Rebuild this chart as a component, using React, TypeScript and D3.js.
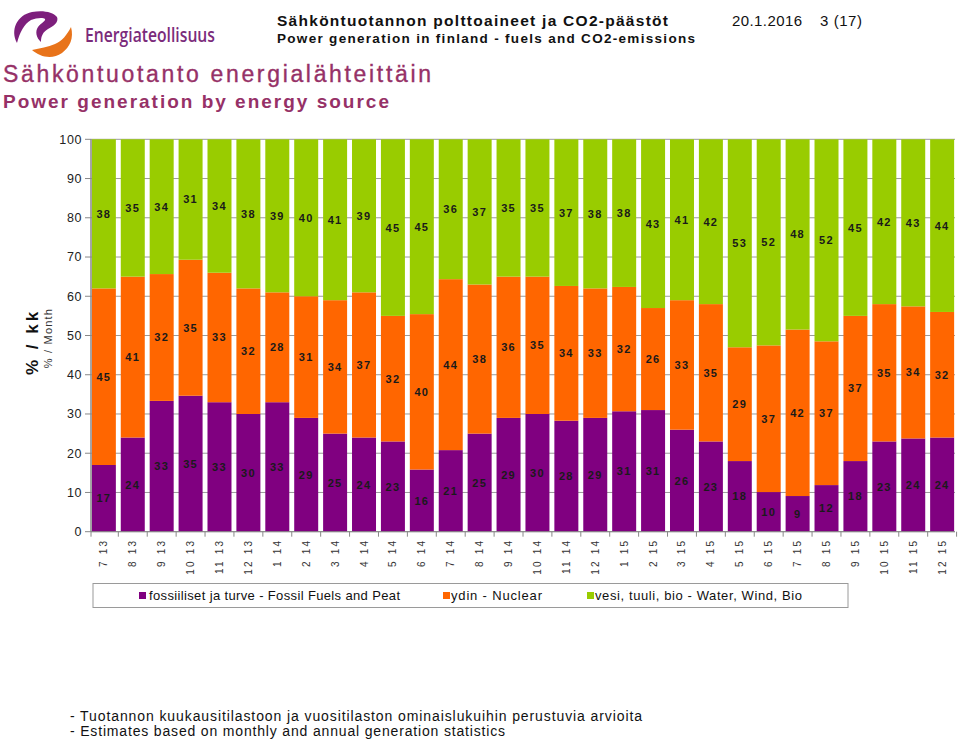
import * as d3 from "d3";

const W = 960;
const H = 739;
const FONT = "'Liberation Sans', Arial, Helvetica, sans-serif";

const MONTHS = [
  "7 13", "8 13", "9 13", "10 13", "11 13", "12 13",
  "1 14", "2 14", "3 14", "4 14", "5 14", "6 14",
  "7 14", "8 14", "9 14", "10 14", "11 14", "12 14",
  "1 15", "2 15", "3 15", "4 15", "5 15", "6 15",
  "7 15", "8 15", "9 15", "10 15", "11 15", "12 15",
];

// fossiiliset ja turve
const FOSSIL = [17, 24, 33, 35, 33, 30, 33, 29, 25, 24, 23, 16, 21, 25, 29, 30, 28, 29, 31, 31, 26, 23, 18, 10, 9, 12, 18, 23, 24, 24];
// ydin
const NUCLEAR = [45, 41, 32, 35, 33, 32, 28, 31, 34, 37, 32, 40, 44, 38, 36, 35, 34, 33, 32, 26, 33, 35, 29, 37, 42, 37, 37, 35, 34, 32];
// vesi, tuuli, bio
const RENEWABLE = [38, 35, 34, 31, 34, 38, 39, 40, 41, 39, 45, 45, 36, 37, 35, 35, 37, 38, 38, 43, 41, 42, 53, 52, 48, 52, 45, 42, 43, 44];

const Y_TICKS = [0, 10, 20, 30, 40, 50, 60, 70, 80, 90, 100];

const SERIES = [
  { key: "fossil", label: "fossiiliset ja turve - Fossil Fuels and Peat", color: "#800080", lx: 139, tx: 149, tl: 251 },
  { key: "nuclear", label: "ydin - Nuclear", color: "#ff6600", lx: 443, tx: 451, tl: 91 },
  { key: "renewable", label: "vesi, tuuli, bio - Water, Wind, Bio", color: "#99cc00", lx: 587, tx: 595, tl: 207 },
];

const PLOT = { left: 91, right: 955, top: 139.3, bottom: 531.7 };

type Row = { month: string; fossil: number; nuclear: number; renewable: number };

export default function App() {
  const rows: Row[] = MONTHS.map((m, i) => ({
    month: m,
    fossil: FOSSIL[i],
    nuclear: NUCLEAR[i],
    renewable: RENEWABLE[i],
  }));

  const stacked = d3
    .stack<Row>()
    .keys(SERIES.map((s) => s.key))
    .offset(d3.stackOffsetExpand)(rows);

  const x = d3
    .scaleBand<string>()
    .domain(MONTHS)
    .range([PLOT.left, PLOT.right])
    .paddingInner(0.17)
    .paddingOuter(0.03);
  const y = d3.scaleLinear().domain([0, 1]).range([PLOT.bottom, PLOT.top]);
  const bw = x.bandwidth();
  const gap = x.step() - bw;

  const tickXs = [PLOT.left, ...MONTHS.map((m) => (x(m) ?? 0) + bw + gap / 2)];

  return (
    <svg
      width={W}
      height={H}
      style={{ position: "absolute", left: 0, top: 0, display: "block", background: "#fff" }}
      fontFamily={FONT}
    >
      {/* logo */}
      <g>
        <path
          d="M17,43 C10,30 17,15 32,12 C43,10 53,12 57,17 C59,22 54,26 48,29 C43,32 41,36 41,42 C36,38 35,31 38,27 C41,23 46,21 45,19 C43,17 36,18 31,20 C24,24 20,32 17,43 Z"
          fill="#7d1f7c"
        />
        <path
          d="M32,50 C40,57 52,60 62,53 C70,47 74,38 71,27 C67,35 62,41 55,44 C48,47 40,48 32,50 Z"
          fill="#e8731a"
        />
        <text
          x={85}
          y={42}
          fontSize={19}
          fontWeight={600}
          fill="#7b2b7b"
          textLength={130}
          lengthAdjust="spacingAndGlyphs"
          fontFamily="'Open Sans', 'DejaVu Sans', sans-serif"
        >
          Energiateollisuus
        </text>
      </g>

      {/* header */}
      <text x={277} y={26} fontSize={15.5} fontWeight="bold" fill="#111" textLength={391}>
        Sähköntuotannon polttoaineet ja CO2-päästöt
      </text>
      <text x={277} y={43} fontSize={13.5} fontWeight="bold" fill="#111" textLength={418}>
        Power generation in finland - fuels and CO2-emissions
      </text>
      <text x={732} y={26} fontSize={15} fill="#111" textLength={70}>
        20.1.2016
      </text>
      <text x={820} y={26} fontSize={15} fill="#111" textLength={42}>
        3 (17)
      </text>
      <text x={3} y={82} fontSize={23} fill="#963167" stroke="#963167" strokeWidth={0.35} textLength={428}>
        Sähköntuotanto energialähteittäin
      </text>
      <text x={3} y={108} fontSize={19} fontWeight="bold" fill="#963167" textLength={386}>
        Power generation by energy source
      </text>

      {/* grid */}
      {Y_TICKS.map((t) => (
        <g key={t}>
          <line x1={PLOT.left} x2={PLOT.right} y1={y(t / 100)} y2={y(t / 100)} stroke="#9a9a9a" strokeWidth={1} />
          <line x1={PLOT.left - 6} x2={PLOT.left} y1={y(t / 100)} y2={y(t / 100)} stroke="#888" />
          <text
            x={PLOT.left - 9}
            y={y(t / 100)}
            dy="0.35em"
            textAnchor="end"
            fontSize={12.5}
            letterSpacing={0.6}
            fill="#222"
          >
            {t}
          </text>
        </g>
      ))}

      {/* bars */}
      {stacked.map((layer, li) => (
        <g key={layer.key} fill={SERIES[li].color}>
          {layer.map((d) => (
            <rect
              key={d.data.month}
              x={x(d.data.month)}
              width={bw}
              y={y(d[1])}
              height={y(d[0]) - y(d[1])}
            />
          ))}
        </g>
      ))}

      {/* value labels */}
      {stacked.map((layer) => (
        <g key={`lab-${layer.key}`}>
          {layer.map((d) => (
            <text
              key={d.data.month}
              x={(x(d.data.month) ?? 0) + bw / 2}
              y={y((d[0] + d[1]) / 2)}
              dy="0.36em"
              textAnchor="middle"
              fontSize={11}
              fontWeight="bold"
              letterSpacing={1.3}
              fill="#1a1a1a"
            >
              {(d.data as any)[layer.key]}
            </text>
          ))}
        </g>
      ))}

      {/* axes */}
      <line x1={PLOT.left} x2={PLOT.left} y1={PLOT.top} y2={PLOT.bottom} stroke="#888" strokeWidth={1.5} />
      <line x1={PLOT.left} x2={PLOT.right} y1={PLOT.bottom} y2={PLOT.bottom} stroke="#888" strokeWidth={1} />
      {tickXs.map((tx, i) => (
        <line key={i} x1={tx} x2={tx} y1={PLOT.bottom} y2={PLOT.bottom + 5} stroke="#888" />
      ))}
      {MONTHS.map((m) => {
        const cx = (x(m) ?? 0) + bw / 2;
        const ty = PLOT.bottom + 7;
        return (
          <text
            key={m}
            transform={`translate(${cx},${ty}) rotate(-90)`}
            dy="0.35em"
            textAnchor="end"
            fontSize={10}
            letterSpacing={2.2}
            fill="#333"
          >
            {m}
          </text>
        );
      })}

      {/* y title */}
      <text
        transform={`translate(38,342) rotate(-90)`}
        textAnchor="middle"
        fontSize={17}
        fontWeight="bold"
        letterSpacing={3}
        fill="#111"
      >
        % / kk
      </text>
      <text
        transform={`translate(52,338) rotate(-90)`}
        textAnchor="middle"
        fontSize={11}
        letterSpacing={1.2}
        fill="#333"
      >
        % / Month
      </text>

      {/* legend */}
      <rect x={93} y={583.5} width={755} height={24} fill="#fff" stroke="#9a9a9a" strokeWidth={1} />
      {SERIES.map((s) => (
        <g key={s.key}>
          <rect x={s.lx} y={592} width={7} height={7} fill={s.color} />
          <text x={s.tx} y={600} fontSize={13} fill="#111" textLength={s.tl}>
            {s.label}
          </text>
        </g>
      ))}

      {/* footer */}
      <text x={70} y={721} fontSize={14} fill="#111" textLength={572}>
        - Tuotannon kuukausitilastoon ja vuositilaston ominaislukuihin perustuvia arvioita
      </text>
      <text x={70} y={736} fontSize={14} fill="#111" textLength={435}>
        - Estimates based on monthly and annual generation statistics
      </text>
    </svg>
  );
}
